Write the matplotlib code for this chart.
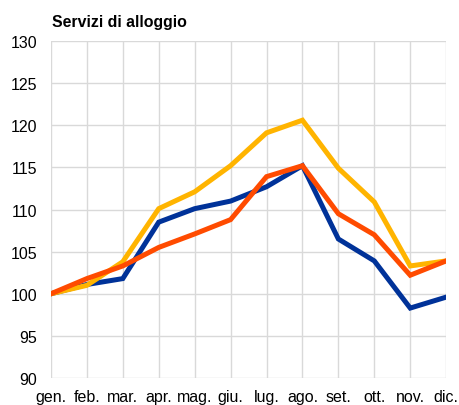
import matplotlib
matplotlib.use("Agg")
import matplotlib.pyplot as plt

plt.rcParams['font.family'] = ['Liberation Sans', 'DejaVu Sans']

# indici mensili (gen. = 100)
mesi = ['gen.', 'feb.', 'mar.', 'apr.', 'mag.', 'giu.',
        'lug.', 'ago.', 'set.', 'ott.', 'nov.', 'dic.']
serie_blu = [100.0, 101.1, 101.8, 108.5, 110.1, 111.0,
             112.7, 115.2, 106.5, 103.9, 98.3, 99.6]
serie_gialla = [100.0, 101.0, 103.8, 110.1, 112.1, 115.2,
                119.1, 120.6, 114.9, 110.9, 103.3, 103.9]
serie_arancio = [100.0, 101.8, 103.3, 105.5, 107.1, 108.8,
                 113.9, 115.2, 109.5, 107.0, 102.2, 103.9]

fig = plt.figure(figsize=(4.59, 4.06), dpi=100)
ax = fig.add_axes([0.111, 0.0665, 0.861, 0.83])

x = range(len(mesi))
ax.plot(x, serie_blu, color='#003299', lw=3.6, solid_joinstyle='miter', zorder=3)
ax.plot(x, serie_gialla, color='#FFB400', lw=3.6, solid_joinstyle='miter', zorder=4)
ax.plot(x, serie_arancio, color='#FF4B00', lw=3.6, solid_joinstyle='miter', zorder=5)

ax.set_xlim(0, len(mesi) - 1)
ax.set_ylim(90, 130)
ax.set_yticks(range(90, 131, 5))
ax.set_xticks(list(x))
ax.set_xticklabels(mesi)
ax.grid(True, color='#d9d9d9', lw=1.0)
ax.set_axisbelow(True)
for s in ax.spines.values():
    s.set_visible(False)
ax.tick_params(length=0, labelsize=11.5, labelcolor='black')
ax.tick_params(axis='y', pad=10)
ax.tick_params(axis='x', pad=8)

fig.text(0.113, 0.945, 'Servizi di alloggio', fontsize=11.4, fontweight='bold',
         ha='left', va='center')

fig.savefig('out.png', dpi=100)
